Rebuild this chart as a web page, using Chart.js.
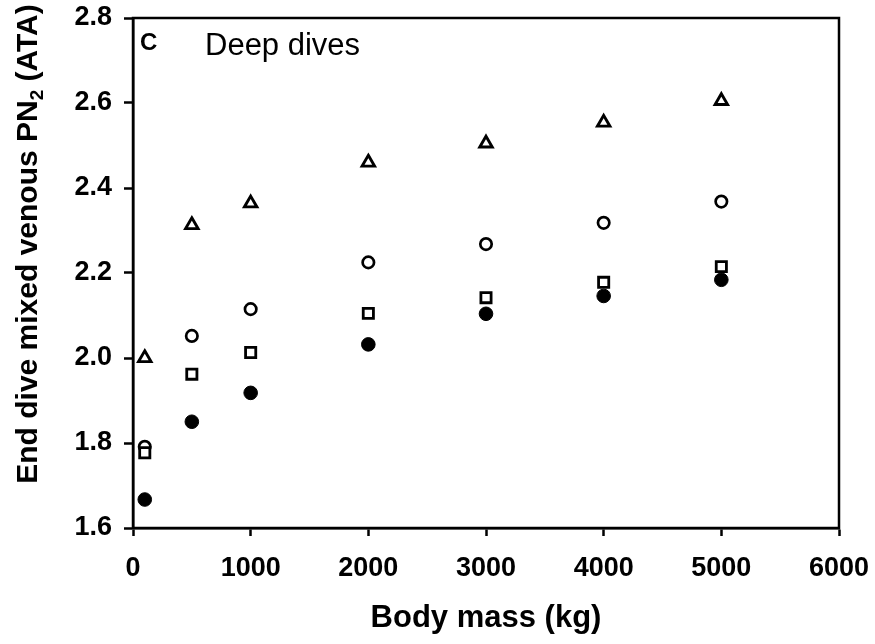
<!DOCTYPE html>
<html>
<head>
<meta charset="utf-8">
<script src="https://cdn.jsdelivr.net/npm/chart.js@4"></script>
<style>
html,body{margin:0;padding:0;background:#fff;}
canvas{display:block;}
</style>
</head>
<body>
<canvas id="c" width="875" height="644"></canvas>
<script>
const bodyMass = [100, 500, 1000, 2000, 3000, 4000, 5000];
const triangleSeries = [2.000, 2.313, 2.364, 2.460, 2.505, 2.554, 2.605];
const openCircleSeries = [1.791, 2.052, 2.115, 2.225, 2.268, 2.318, 2.368];
const squareSeries = [1.777, 1.962, 2.013, 2.105, 2.142, 2.178, 2.215];
const filledCircleSeries = [1.667, 1.850, 1.918, 2.032, 2.104, 2.146, 2.184];
const xTicks = [0, 1000, 2000, 3000, 4000, 5000, 6000];
const yTicks = [1.6, 1.8, 2.0, 2.2, 2.4, 2.6, 2.8];
const panelLetter = "C";
const panelLabel = "Deep dives";
const xTitle = "Body mass (kg)";
const yTitleMain = "End dive mixed venous PN";
const yTitleSub = "2";
const yTitleEnd = " (ATA)";

const FONT = "'Liberation Sans', Arial, Helvetica, sans-serif";

function pts(ys){ return bodyMass.map((x,i)=>({x:x, y:ys[i]})); }

const framePlugin = {
  id: 'frame',
  afterDraw(chart){
    const ctx = chart.ctx, a = chart.chartArea;
    ctx.save();
    ctx.strokeStyle = '#000';
    ctx.lineWidth = 2.5;
    ctx.strokeRect(a.left, a.top, a.right - a.left, a.bottom - a.top);
    ctx.fillStyle = '#000';
    ctx.textBaseline = 'middle';
    ctx.textAlign = 'left';
    ctx.font = "bold 24px " + FONT;
    ctx.fillText(panelLetter, a.left + 7, a.top + 25);
    ctx.font = "31px " + FONT;
    ctx.fillText(panelLabel, a.left + 72, a.top + 28);
    ctx.textAlign = 'center';
    ctx.font = "bold 31px " + FONT;
    ctx.fillText(xTitle, (a.left + a.right)/2, 618);
    ctx.translate(37, 244);
    ctx.rotate(-Math.PI/2);
    ctx.textBaseline = 'alphabetic';
    ctx.textAlign = 'left';
    const mainFont = "bold 30px " + FONT, subFont = "bold 19px " + FONT;
    ctx.font = mainFont; const w1 = ctx.measureText(yTitleMain).width;
    ctx.font = subFont; const w2 = ctx.measureText(yTitleSub).width;
    ctx.font = mainFont; const w3 = ctx.measureText(yTitleEnd).width;
    let x0 = -(w1 + w2 + w3)/2;
    ctx.font = mainFont; ctx.fillText(yTitleMain, x0, 0);
    ctx.font = subFont; ctx.fillText(yTitleSub, x0 + w1, 6);
    ctx.font = mainFont; ctx.fillText(yTitleEnd, x0 + w1 + w2, 0);
    ctx.restore();
  }
};

new Chart(document.getElementById('c'), {
  type: 'scatter',
  data: {
    datasets: [
      { label: 'filled', data: pts(filledCircleSeries), pointStyle: 'circle', pointRadius: 6.8,
        backgroundColor: '#000', borderColor: '#000', borderWidth: 1 },
      { label: 'square', data: pts(squareSeries), pointStyle: 'rect', pointRadius: 7.2,
        backgroundColor: '#fff', borderColor: '#000', borderWidth: 2.8 },
      { label: 'open circle', data: pts(openCircleSeries), pointStyle: 'circle', pointRadius: 5.7,
        backgroundColor: '#fff', borderColor: '#000', borderWidth: 2.7 },
      { label: 'triangle', data: pts(triangleSeries), pointStyle: 'triangle', pointRadius: 7.2,
        backgroundColor: '#fff', borderColor: '#000', borderWidth: 2.9 }
    ]
  },
  options: {
    responsive: false,
    animation: false,
    events: [],
    layout: { padding: { left: 0, right: 36, top: 18, bottom: 0 } },
    plugins: { legend: { display: false }, tooltip: { enabled: false } },
    scales: {
      x: {
        type: 'linear', min: 0, max: 6000,
        afterBuildTicks(s){ s.ticks = xTicks.map(v=>({value:v})); },
        afterFit(s){ s.height = 116; s.paddingLeft = 0; s.paddingRight = 0; },
        grid: { display: true, drawOnChartArea: false, drawTicks: true, tickLength: 8, tickWidth: 2.5, tickColor: '#000' },
        border: { display: true, color: '#000', width: 2.5 },
        ticks: { color: '#000', padding: 16, font: { family: FONT, size: 27, weight: 'bold' },
                 maxRotation: 0, autoSkip: false, callback: v => String(v) }
      },
      y: {
        type: 'linear', min: 1.6, max: 2.8,
        afterBuildTicks(s){ s.ticks = yTicks.map(v=>({value:v})); },
        afterFit(s){ s.width = 133; s.paddingTop = 0; s.paddingBottom = 0; },
        grid: { display: true, drawOnChartArea: false, drawTicks: true, tickLength: 9, tickWidth: 2.5, tickColor: '#000' },
        border: { display: true, color: '#000', width: 2.5 },
        ticks: { color: '#000', padding: 12, font: { family: FONT, size: 27, weight: 'bold' },
                 autoSkip: false, callback: v => Number(v).toFixed(1) }
      }
    }
  },
  plugins: [framePlugin]
});
</script>
</body>
</html>
